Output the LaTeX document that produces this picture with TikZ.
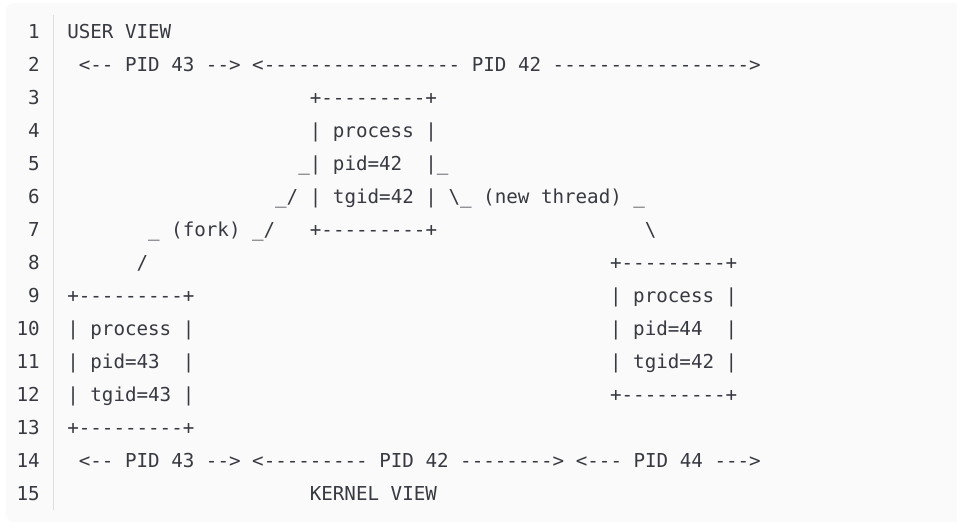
\documentclass[tikz,border=0pt]{standalone}
\usepackage{fontspec}
\setmonofont{DejaVu Sans Mono}
\definecolor{codebg}{HTML}{FAFAFA}
\definecolor{codetext}{HTML}{383A42}
\definecolor{rulegray}{HTML}{DDDDDD}
\tikzset{
  code/.style={anchor=base west, inner sep=0pt, text=codetext, font=\ttfamily\fontsize{14.4}{16}\selectfont},
  lineno/.style={anchor=base east, inner sep=0pt, text=codetext, font=\ttfamily\fontsize{14.4}{16}\selectfont},
}
\newcommand{\cw}{11.55}
\begin{document}
\begin{tikzpicture}[x=0.75pt,y=-0.75pt]
  \useasboundingbox (0,0) rectangle (957,531);
  \fill[codebg, rounded corners=6] (6,3) rectangle (975,522);
  \draw[rulegray] (53,15) -- (53,510);

  % line numbers
  \foreach \i in {1,...,15}
    \node[lineno] (num\i) at (40,{38.3+(\i-1)*33}) {\i};

  % user view
  \node[code] (userview) at (67,38.3) {USER~VIEW};
  \node[code] (pidtop) at ({67+\cw},71.3) {<--~PID~43~-->~<-----------------~PID~42~----------------->};

  % parent process
  \node[code] (parenttop) at ({67+21*\cw},104.3) {+---------+};
  \node[code] (parentname) at ({67+21*\cw},137.3) {|~process~|};
  \node[code] (parentpid) at ({67+20*\cw},170.3) {\_|~pid=42~~|\_};
  \node[code] (parenttgid) at ({67+18*\cw},203.3) {\_/~|~tgid=42~|~\textbackslash\_~(new~thread)~\_};
  \node[code] (forklabel) at ({67+7*\cw},236.3) {\_~(fork)~\_/~~~+---------+};
  \node[code] (threadslash) at ({67+50*\cw},236.3) {\textbackslash};
  \node[code] (forkslash) at ({67+6*\cw},269.3) {/};

  % new thread
  \node[code] (threadtop) at ({67+47*\cw},269.3) {+---------+};
  \node[code] (threadname) at ({67+47*\cw},302.3) {|~process~|};
  \node[code] (threadpid) at ({67+47*\cw},335.3) {|~pid=44~~|};
  \node[code] (threadtgid) at ({67+47*\cw},368.3) {|~tgid=42~|};
  \node[code] (threadbottom) at ({67+47*\cw},401.3) {+---------+};

  % forked child
  \node[code] (childtop) at (67,302.3) {+---------+};
  \node[code] (childname) at (67,335.3) {|~process~|};
  \node[code] (childpid) at (67,368.3) {|~pid=43~~|};
  \node[code] (childtgid) at (67,401.3) {|~tgid=43~|};
  \node[code] (childbottom) at (67,434.3) {+---------+};

  % kernel view
  \node[code] (pidbottom) at ({67+\cw},467.3) {<--~PID~43~-->~<---------~PID~42~-------->~<---~PID~44~--->};
  \node[code] (kernelview) at ({67+21*\cw},500.3) {KERNEL~VIEW};
\end{tikzpicture}
\end{document}
